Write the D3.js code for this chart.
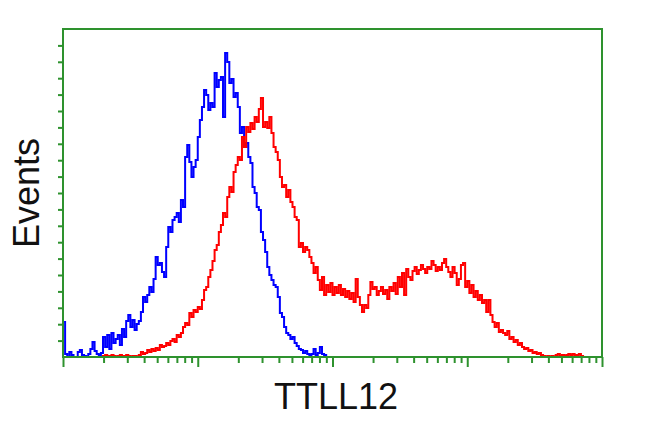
<!DOCTYPE html>
<html>
<head>
<meta charset="utf-8">
<script src="https://cdn.jsdelivr.net/npm/d3@7"></script>
<style>
html,body{margin:0;padding:0;background:#fff;}
svg{display:block;}
</style>
</head>
<body>
<svg id="chart" width="650" height="431"></svg>
<script>
// ---- data (channel-indexed histogram counts, 256 channels) ----
const xLabel = "TTLL12";
const yLabel = "Events";
const channelCount = 256;
const yMax = 328;
const yTickCount = 20;
const decadeTicks = [1, 10, 100, 1000, 10000];

// blue: control (channels 0..125)
const blueCounts = [
 35,3,0,5,2,0,0,5,7,2, 1,0,3,8,15,6,3,2,4,20,
 10,22,8,24,14,18,22,12,28,20, 36,42,30,37,27,33,36,45,60,55,
 62,70,65,78,100,92,94,85,80,110, 130,125,137,140,144,135,157,150,200,212,
 195,180,190,197,220,237,250,267,262,247, 254,250,284,270,277,280,240,304,295,274,
 278,260,264,250,224,230,210,214,200,194, 170,164,150,147,125,117,105,90,82,77,
 72,70,60,44,40,30,24,22,18,20, 14,11,8,7,4,6,3,2,3,8,
 2,4,10,3,2,0
];

// red: TTLL12 (channels 0..247)
const redCounts = [
 0,0,0,0,0,0,0,0,0,0, 0,0,0,0,0,0,0,0,0,1,
 2,1,1,2,1,0,1,2,1,1, 2,1,0,1,1,0,2,5,3,4,
 7,5,8,6,9,7,12,10,11,14, 12,16,18,15,22,20,24,30,34,32,
 44,40,47,45,50,48,57,67,70,80, 87,96,107,112,125,132,144,140,160,170,
 165,185,192,200,197,220,210,230,225,234, 228,240,235,248,259,230,235,229,240,224,
 210,205,197,180,170,172,160,167,155,150, 140,137,110,114,105,110,107,100,94,84,
 90,77,67,80,62,72,65,74,62,70, 64,72,62,68,60,66,58,64,55,78,
 60,52,45,52,49,62,75,68,70,62, 66,70,63,67,58,70,66,74,63,80,
 70,84,62,88,80,77,86,90,83,87, 92,88,84,90,88,96,92,86,90,87,
 94,98,90,85,80,90,84,72,78,92, 94,70,76,64,72,60,66,57,62,54,
 57,45,57,42,35,30,34,25,27,24, 22,26,18,20,15,17,12,14,10,8,
 9,6,7,4,5,3,4,2,1,0, 1,0,1,0,2,3,1,2,1,2,
 3,2,3,2,2,3,1,0
];

// ---- layout ----
const svg = d3.select("#chart");
const L = 63, R = 602, T = 29, B = 357;
const frameColor = "#2e922e";

const x = d3.scaleLinear().domain([0, channelCount]).range([L, R]);
const xLog = d3.scaleLog().domain([decadeTicks[0], decadeTicks[decadeTicks.length-1]]).range([L, R]);
const y = d3.scaleLinear().domain([0, yMax]).range([B, T]);

const line = d3.line()
  .x((d, i) => x(i + 0.5))
  .y(d => y(d))
  .curve(d3.curveStep);

svg.append("path").datum(blueCounts)
  .attr("d", line).attr("fill", "none")
  .attr("stroke", "#0000ff").attr("stroke-width", 2).attr("stroke-linejoin", "miter");

svg.append("path").datum(redCounts)
  .attr("d", line).attr("fill", "none")
  .attr("stroke", "#ff0000").attr("stroke-width", 2).attr("stroke-linejoin", "miter");

// frame
svg.append("rect").attr("x", L).attr("y", T).attr("width", R - L).attr("height", B - T)
  .attr("fill", "none").attr("stroke", frameColor).attr("stroke-width", 2);

// bottom axis: log decades (major) + minor
const minorTicks = [];
for (let i = 0; i < decadeTicks.length - 1; i++) {
  for (let k = 2; k <= 9; k++) minorTicks.push(decadeTicks[i] * k);
}
const gxMinor = svg.append("g").attr("transform", `translate(0,${B})`)
  .call(d3.axisBottom(xLog).tickValues(minorTicks).tickSize(6).tickFormat(""));
const gxMajor = svg.append("g").attr("transform", `translate(0,${B})`)
  .call(d3.axisBottom(xLog).tickValues(decadeTicks).tickSize(10).tickFormat(""));
[gxMinor, gxMajor].forEach(g => {
  g.select(".domain").remove();
  g.selectAll("line").attr("stroke", frameColor).attr("stroke-width", 2);
});

// left axis minor ticks
const yTicks = d3.range(1, yTickCount).map(i => i * yMax / yTickCount);
const gy = svg.append("g").attr("transform", `translate(${L},0)`)
  .call(d3.axisLeft(y).tickValues(yTicks).tickSize(5).tickFormat(""));
gy.select(".domain").remove();
gy.selectAll("line").attr("stroke", frameColor).attr("stroke-width", 2);

// labels
svg.append("text").text(xLabel)
  .attr("x", 336).attr("y", 409)
  .attr("text-anchor", "middle")
  .attr("font-family", "Liberation Sans, Arial, sans-serif")
  .attr("font-size", 36).attr("fill", "#111");

svg.append("text").text(yLabel)
  .attr("transform", "translate(39,193) rotate(-90)")
  .attr("text-anchor", "middle")
  .attr("font-family", "Liberation Sans, Arial, sans-serif")
  .attr("font-size", 36).attr("fill", "#111");
</script>
</body>
</html>
